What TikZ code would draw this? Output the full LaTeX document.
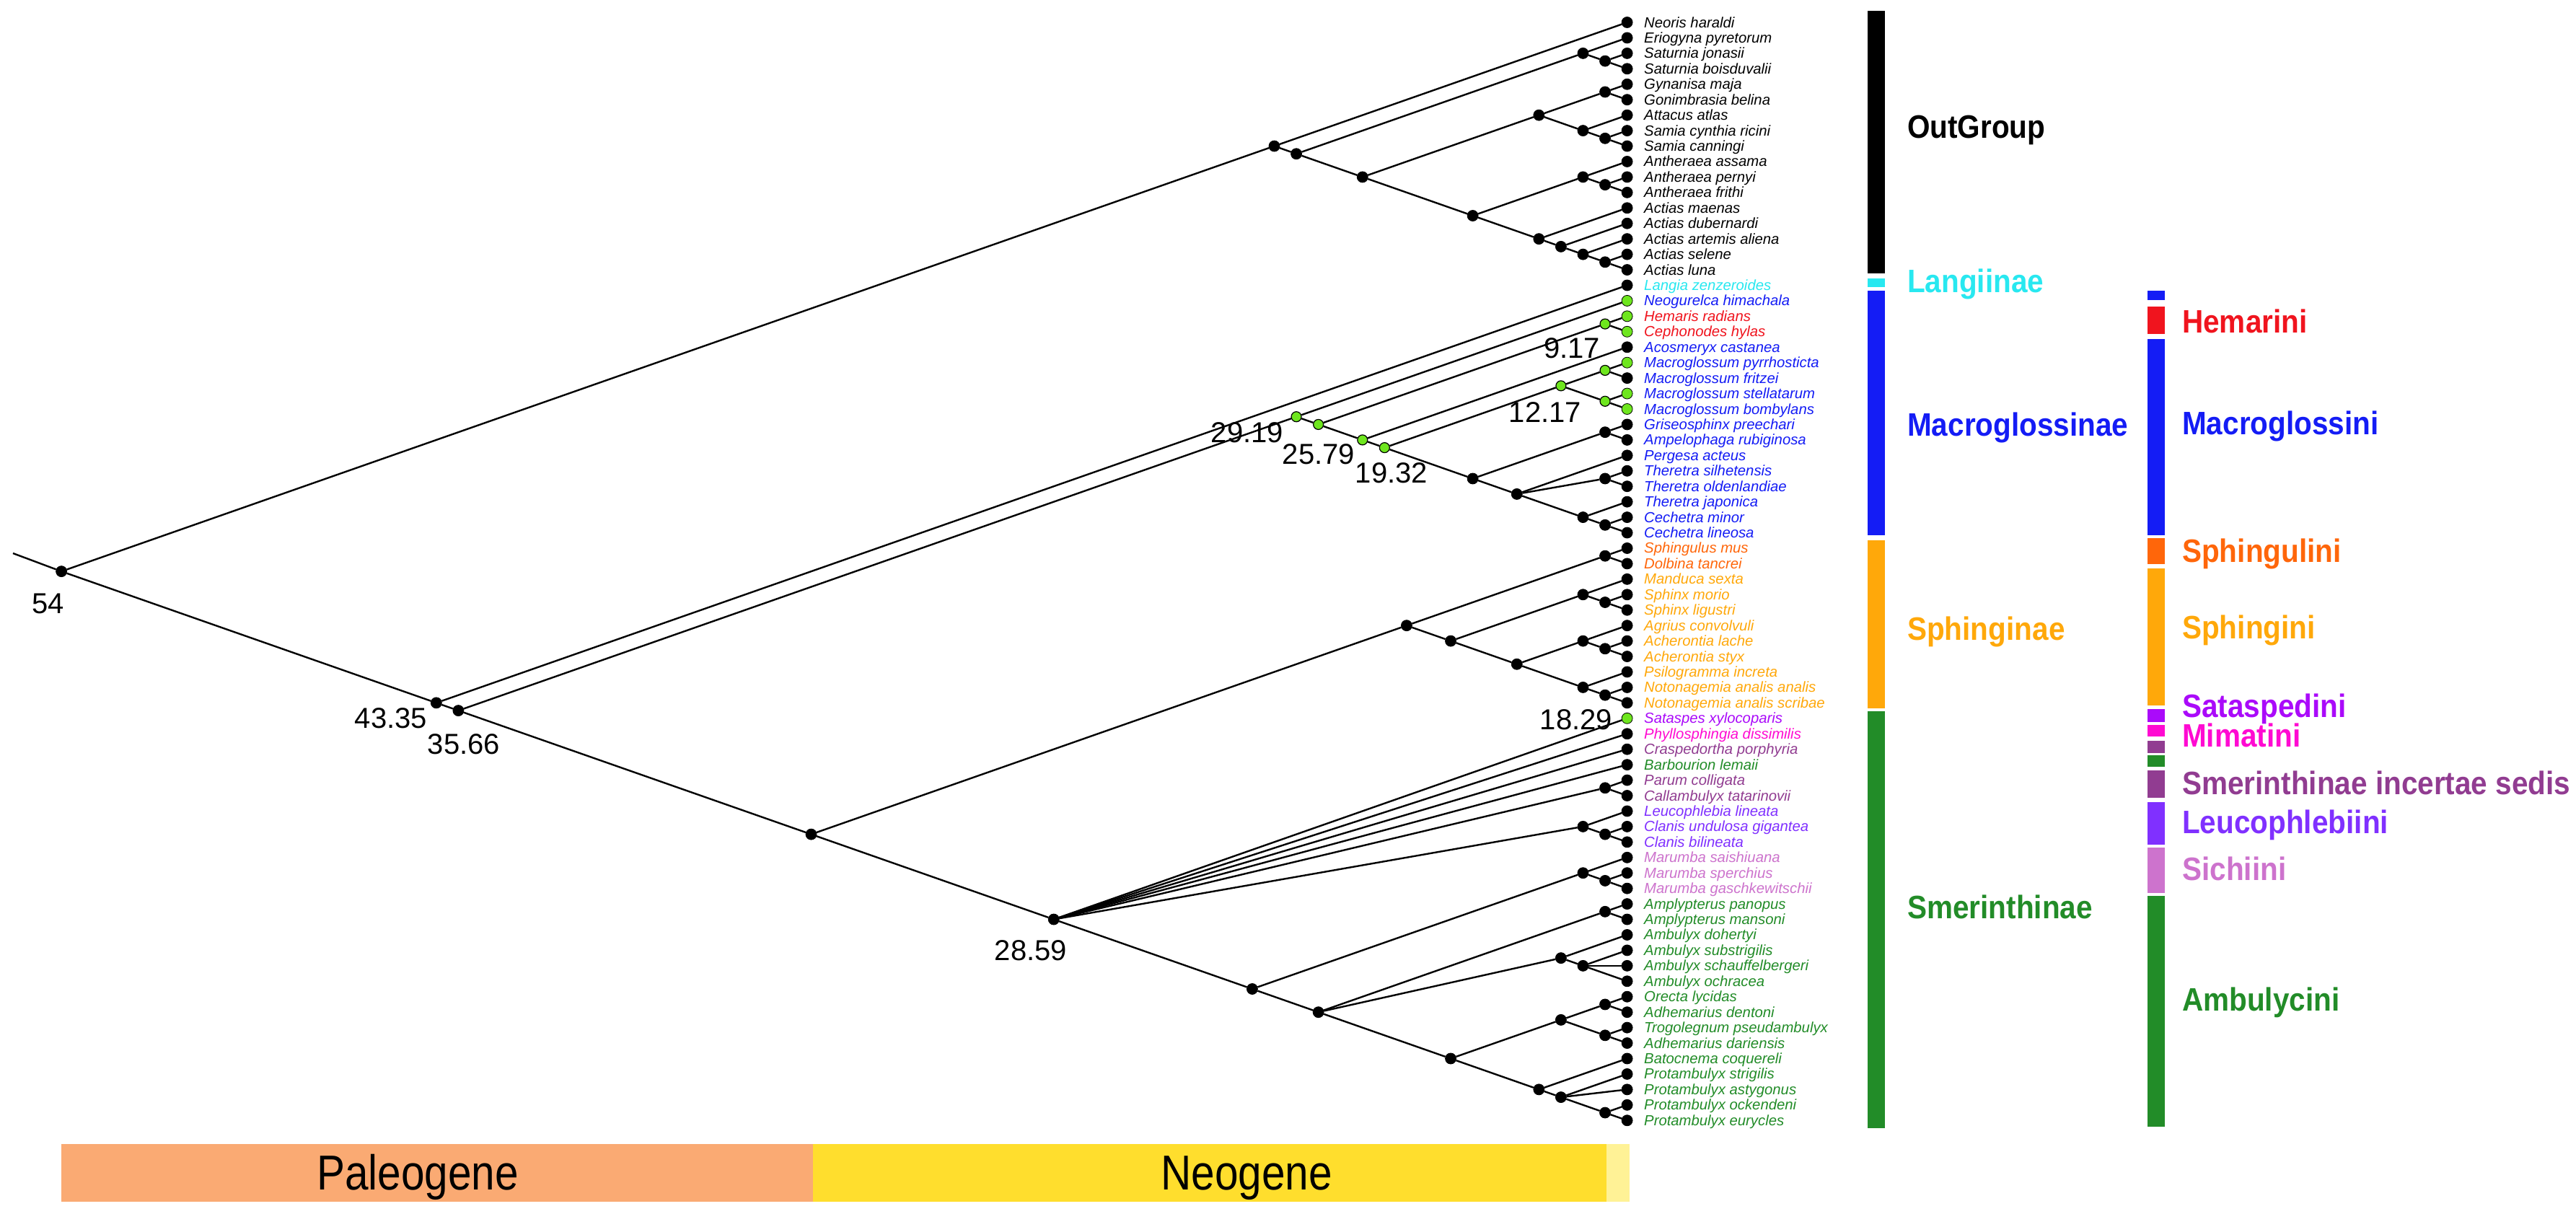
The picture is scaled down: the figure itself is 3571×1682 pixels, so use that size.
\documentclass[tikz,border=0pt]{standalone}
\usepackage{fontspec}
\setmainfont{Liberation Sans}
\newfontfamily\legfont[FakeStretch=0.9]{Liberation Sans}
\newfontfamily\erafont[FakeStretch=0.86]{Liberation Sans}
\definecolor{cLang}{RGB}{40,232,240}
\definecolor{cMac}{RGB}{20,28,245}
\definecolor{cHem}{RGB}{240,20,30}
\definecolor{cSphl}{RGB}{255,102,10}
\definecolor{cSph}{RGB}{255,168,10}
\definecolor{cSat}{RGB}{170,10,250}
\definecolor{cMim}{RGB}{255,10,210}
\definecolor{cInc}{RGB}{145,60,145}
\definecolor{cLeu}{RGB}{128,48,255}
\definecolor{cSic}{RGB}{205,115,205}
\definecolor{cSme}{RGB}{34,140,40}
\definecolor{cNode}{RGB}{110,230,30}
\definecolor{cPaleo}{RGB}{250,170,115}
\definecolor{cNeo}{RGB}{255,222,45}
\definecolor{cQua}{RGB}{255,242,150}
\tikzset{
  dot/.style={circle, inner sep=0pt, minimum size=15pt, fill=#1, draw=black, line width=0.8pt},
  gdot/.style={circle, inner sep=0pt, minimum size=14pt, fill=cNode, draw=black, line width=1.2pt},
  branch/.style={line width=2.4pt, black},
  tiplab/.style={anchor=base west, inner sep=0pt, font=\fontsize{20.3}{22}\selectfont\itshape},
  nlab/.style={inner sep=0pt, font=\fontsize{40}{44}\selectfont},
  leg/.style={anchor=base west, inner sep=0pt, font=\legfont\bfseries\fontsize{45}{50}\selectfont},
  era/.style={anchor=base, inner sep=0pt, font=\erafont\fontsize{68}{70}\selectfont}
}
\newcommand\inode[4]{%
  \pgfmathsetmacro\nxx{2255.6-30.57*(#3-#2)}%
  \pgfmathsetmacro\nyy{31+21.44*((#2+#3)/2-1)}%
  \node[#4] (#1) at (\nxx,\nyy) {};}
\newcommand\edges[2]{\foreach \ch in {#2} {\draw[branch] (#1) -- (\ch);}}
\begin{document}
\begin{tikzpicture}[x=1pt,y=-1pt]
\fill[white] (0,0) rectangle (3571,1682);
\useasboundingbox (0,0) rectangle (3571,1682);

% time scale
\fill[cPaleo] (85,1586) rectangle (1126.6,1666);
\fill[cNeo] (1126.6,1586) rectangle (2226.8,1666);
\fill[cQua] (2226.8,1586) rectangle (2259,1666);
\node[era] (paleo) at (579,1649) {Paleogene};
\node[era] (neo) at (1728,1649) {Neogene};

% tips
\foreach \nm/\col/\dc [count=\i] in {
Neoris haraldi/black/black,
Eriogyna pyretorum/black/black,
Saturnia jonasii/black/black,
Saturnia boisduvalii/black/black,
Gynanisa maja/black/black,
Gonimbrasia belina/black/black,
Attacus atlas/black/black,
Samia cynthia ricini/black/black,
Samia canningi/black/black,
Antheraea assama/black/black,
Antheraea pernyi/black/black,
Antheraea frithi/black/black,
Actias maenas/black/black,
Actias dubernardi/black/black,
Actias artemis aliena/black/black,
Actias selene/black/black,
Actias luna/black/black,
Langia zenzeroides/cLang/black,
Neogurelca himachala/cMac/cNode,
Hemaris radians/cHem/cNode,
Cephonodes hylas/cHem/cNode,
Acosmeryx castanea/cMac/black,
Macroglossum pyrrhosticta/cMac/cNode,
Macroglossum fritzei/cMac/black,
Macroglossum stellatarum/cMac/cNode,
Macroglossum bombylans/cMac/cNode,
Griseosphinx preechari/cMac/black,
Ampelophaga rubiginosa/cMac/black,
Pergesa acteus/cMac/black,
Theretra silhetensis/cMac/black,
Theretra oldenlandiae/cMac/black,
Theretra japonica/cMac/black,
Cechetra minor/cMac/black,
Cechetra lineosa/cMac/black,
Sphingulus mus/cSphl/black,
Dolbina tancrei/cSphl/black,
Manduca sexta/cSph/black,
Sphinx morio/cSph/black,
Sphinx ligustri/cSph/black,
Agrius convolvuli/cSph/black,
Acherontia lache/cSph/black,
Acherontia styx/cSph/black,
Psilogramma increta/cSph/black,
Notonagemia analis analis/cSph/black,
Notonagemia analis scribae/cSph/black,
Sataspes xylocoparis/cSat/cNode,
Phyllosphingia dissimilis/cMim/black,
Craspedortha porphyria/cInc/black,
Barbourion lemaii/cSme/black,
Parum colligata/cInc/black,
Callambulyx tatarinovii/cInc/black,
Leucophlebia lineata/cLeu/black,
Clanis undulosa gigantea/cLeu/black,
Clanis bilineata/cLeu/black,
Marumba saishiuana/cSic/black,
Marumba sperchius/cSic/black,
Marumba gaschkewitschii/cSic/black,
Amplypterus panopus/cSme/black,
Amplypterus mansoni/cSme/black,
Ambulyx dohertyi/cSme/black,
Ambulyx substrigilis/cSme/black,
Ambulyx schauffelbergeri/cSme/black,
Ambulyx ochracea/cSme/black,
Orecta lycidas/cSme/black,
Adhemarius dentoni/cSme/black,
Trogolegnum pseudambulyx/cSme/black,
Adhemarius dariensis/cSme/black,
Batocnema coquereli/cSme/black,
Protambulyx strigilis/cSme/black,
Protambulyx astygonus/cSme/black,
Protambulyx ockendeni/cSme/black,
Protambulyx eurycles/cSme/black}
{
  \node[dot=\dc] (t\i) at (2255.6,{31+21.44*(\i-1)}) {};
  \node[tiplab, text=\col] (l\i) at (2279,{38+21.44*(\i-1)}) {\nm};
}

% internal nodes
\inode{R}{1}{72}{dot=black}
\inode{O1}{1}{17}{dot=black}
\inode{O2}{2}{17}{dot=black}
\inode{S1}{2}{4}{dot=black}
\inode{S2}{3}{4}{dot=black}
\inode{O3}{5}{17}{dot=black}
\inode{O4}{5}{9}{dot=black}
\inode{G1}{5}{6}{dot=black}
\inode{A1}{7}{9}{dot=black}
\inode{A2}{8}{9}{dot=black}
\inode{O5}{10}{17}{dot=black}
\inode{AN1}{10}{12}{dot=black}
\inode{AN2}{11}{12}{dot=black}
\inode{AC1}{13}{17}{dot=black}
\inode{AC2}{14}{17}{dot=black}
\inode{AC3}{15}{17}{dot=black}
\inode{AC4}{16}{17}{dot=black}
\inode{N43}{18}{72}{dot=black}
\inode{N35}{19}{72}{dot=black}
\inode{M29}{19}{34}{gdot}
\inode{M25}{20}{34}{gdot}
\inode{H}{20}{21}{gdot}
\inode{M19a}{22}{34}{gdot}
\inode{M19b}{23}{34}{gdot}
\inode{MG2}{23}{26}{gdot}
\inode{MG1}{23}{24}{gdot}
\inode{MG3}{25}{26}{gdot}
\inode{MC}{27}{34}{dot=black}
\inode{GR}{27}{28}{dot=black}
\inode{TH}{29}{34}{dot=black}
\inode{TT}{30}{31}{dot=black}
\inode{CE1}{32}{34}{dot=black}
\inode{CE2}{33}{34}{dot=black}
\inode{SS}{35}{72}{dot=black}
\inode{SP}{35}{45}{dot=black}
\inode{SG}{35}{36}{dot=black}
\inode{SP2}{37}{45}{dot=black}
\inode{MA}{37}{39}{dot=black}
\inode{SX}{38}{39}{dot=black}
\inode{SP3}{40}{45}{dot=black}
\inode{AG}{40}{42}{dot=black}
\inode{AH}{41}{42}{dot=black}
\inode{PS}{43}{45}{dot=black}
\inode{NO}{44}{45}{dot=black}
\inode{SM}{46}{72}{dot=black}
\inode{PC}{50}{51}{dot=black}
\inode{LC}{52}{54}{dot=black}
\inode{CL}{53}{54}{dot=black}
\inode{AM}{55}{72}{dot=black}
\inode{MR}{55}{57}{dot=black}
\inode{MR2}{56}{57}{dot=black}
\inode{AB}{58}{72}{dot=black}
\inode{AP}{58}{59}{dot=black}
\inode{AX}{60}{63}{dot=black}
\inode{AX2}{61}{63}{dot=black}
\inode{OR}{64}{72}{dot=black}
\inode{OA}{64}{67}{dot=black}
\inode{OA1}{64}{65}{dot=black}
\inode{OA2}{66}{67}{dot=black}
\inode{PB}{68}{72}{dot=black}
\inode{PB2}{69}{72}{dot=black}
\inode{PB3}{71}{72}{dot=black}

% branches
\coordinate (r0) at (18,767);
\draw[branch] (r0) -- (R);
\edges{R}{O1,N43}
\edges{O1}{t1,O2}
\edges{O2}{S1,O3}
\edges{S1}{t2,S2}
\edges{S2}{t3,t4}
\edges{O3}{O4,O5}
\edges{O4}{G1,A1}
\edges{G1}{t5,t6}
\edges{A1}{t7,A2}
\edges{A2}{t8,t9}
\edges{O5}{AN1,AC1}
\edges{AN1}{t10,AN2}
\edges{AN2}{t11,t12}
\edges{AC1}{t13,AC2}
\edges{AC2}{t14,AC3}
\edges{AC3}{t15,AC4}
\edges{AC4}{t16,t17}
\edges{N43}{t18,N35}
\edges{N35}{M29,SS}
\edges{M29}{t19,M25}
\edges{M25}{H,M19a}
\edges{H}{t20,t21}
\edges{M19a}{t22,M19b}
\edges{M19b}{MG2,MC}
\edges{MG2}{MG1,MG3}
\edges{MG1}{t23,t24}
\edges{MG3}{t25,t26}
\edges{MC}{GR,TH}
\edges{GR}{t27,t28}
\edges{TH}{t29,TT,CE1}
\edges{TT}{t30,t31}
\edges{CE1}{t32,CE2}
\edges{CE2}{t33,t34}
\edges{SS}{SP,SM}
\edges{SP}{SG,SP2}
\edges{SG}{t35,t36}
\edges{SP2}{MA,SP3}
\edges{MA}{t37,SX}
\edges{SX}{t38,t39}
\edges{SP3}{AG,PS}
\edges{AG}{t40,AH}
\edges{AH}{t41,t42}
\edges{PS}{t43,NO}
\edges{NO}{t44,t45}
\edges{SM}{t46,t47,t48,t49,PC,LC,AM}
\edges{PC}{t50,t51}
\edges{LC}{t52,CL}
\edges{CL}{t53,t54}
\edges{AM}{MR,AB}
\edges{MR}{t55,MR2}
\edges{MR2}{t56,t57}
\edges{AB}{AP,AX,OR}
\edges{AP}{t58,t59}
\edges{AX}{t60,AX2}
\edges{AX2}{t61,t62,t63}
\edges{OR}{OA,PB}
\edges{OA}{OA1,OA2}
\edges{OA1}{t64,t65}
\edges{OA2}{t66,t67}
\edges{PB}{t68,PB2}
\edges{PB2}{t69,t70,PB3}
\edges{PB3}{t71,t72}

% node age labels
\node[nlab] (a54) at (67,837) {54};
\node[nlab] (a4335) at (542,996) {43.35};
\node[nlab] (a3566) at (643,1032) {35.66};
\node[nlab] (a2919) at (1729,600) {29.19};
\node[nlab] (a2579) at (1828,630) {25.79};
\node[nlab] (a1932) at (1929,656) {19.32};
\node[nlab] (a1217) at (2142,572) {12.17};
\node[nlab] (a917) at (2179,483) {9.17};
\node[nlab] (a1829) at (2185,998) {18.29};
\node[nlab] (a2859) at (1429,1318) {28.59};

% subfamily bars
\fill[black] (2589,15.3) rectangle (2613,378.6);
\fill[cLang] (2589,386) rectangle (2613,398);
\fill[cMac] (2589,403) rectangle (2613,742.3);
\fill[cSph] (2589,749) rectangle (2613,982);
\fill[cSme] (2589,985.7) rectangle (2613,1564.4);
\node[leg, text=black] (gOut) at (2644,191) {OutGroup};
\node[leg, text=cLang] (gLang) at (2644,405.6) {Langiinae};
\node[leg, text=cMac] (gMac) at (2644,604.6) {Macroglossinae};
\node[leg, text=cSph] (gSph) at (2644,887) {Sphinginae};
\node[leg, text=cSme] (gSme) at (2644,1273.7) {Smerinthinae};

% tribe bars
\fill[cMac] (2976.5,403) rectangle (3000.6,415.8);
\fill[cHem] (2976.5,424.5) rectangle (3000.6,463.3);
\fill[cMac] (2976.5,470.4) rectangle (3000.6,742.3);
\fill[cSphl] (2976.5,746.4) rectangle (3000.6,781.6);
\fill[cSph] (2976.5,788) rectangle (3000.6,977.5);
\fill[cSat] (2976.5,983) rectangle (3000.6,1000.5);
\fill[cMim] (2976.5,1005) rectangle (3000.6,1021.4);
\fill[cInc] (2976.5,1026.8) rectangle (3000.6,1044.4);
\fill[cSme] (2976.5,1047) rectangle (3000.6,1062.5);
\fill[cInc] (2976.5,1068) rectangle (3000.6,1106.4);
\fill[cLeu] (2976.5,1112) rectangle (3000.6,1171);
\fill[cSic] (2976.5,1175) rectangle (3000.6,1238);
\fill[cSme] (2976.5,1242) rectangle (3000.6,1561.7);
\node[leg, text=cHem] (gHem) at (3025,461.7) {Hemarini};
\node[leg, text=cMac] (gMacT) at (3025,602) {Macroglossini};
\node[leg, text=cSphl] (gSphl) at (3025,779.6) {Sphingulini};
\node[leg, text=cSph] (gSphT) at (3025,885.9) {Sphingini};
\node[leg, text=cSat] (gSat) at (3025,994) {Sataspedini};
\node[leg, text=cMim] (gMim) at (3025,1035) {Mimatini};
\node[leg, text=cInc] (gInc) at (3025,1101) {Smerinthinae incertae sedis};
\node[leg, text=cLeu] (gLeu) at (3025,1155.8) {Leucophlebiini};
\node[leg, text=cSic] (gSic) at (3025,1220) {Sichiini};
\node[leg, text=cSme] (gAmb) at (3025,1401.5) {Ambulycini};
\end{tikzpicture}
\end{document}
